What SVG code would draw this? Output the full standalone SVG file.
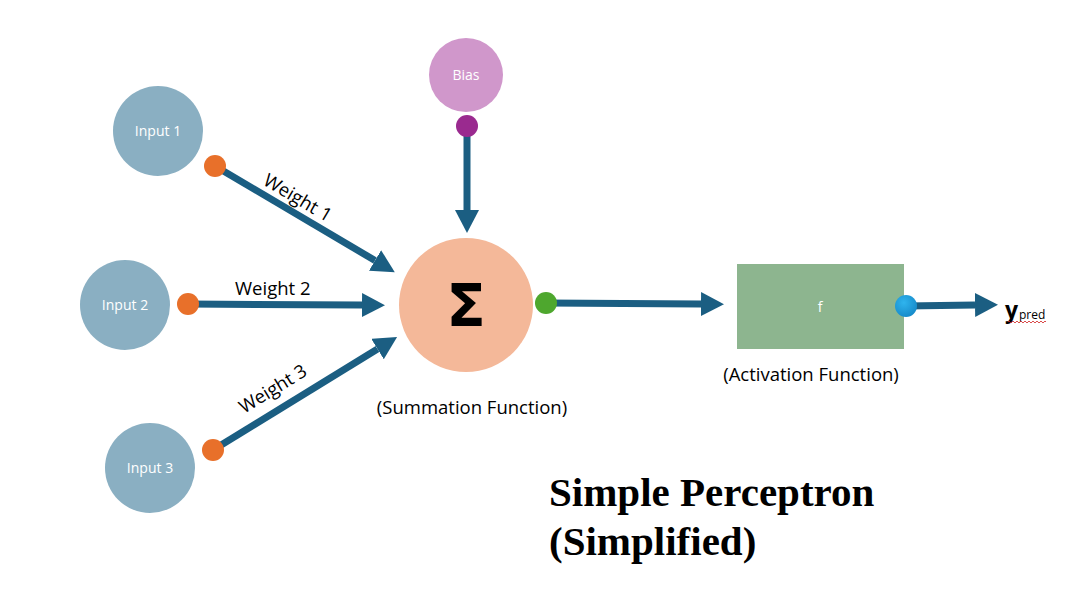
<svg xmlns="http://www.w3.org/2000/svg" width="1089" height="612" viewBox="0 0 1089 612">
<style>
.inp{fill:#8aafc2}
.lbl{font-family:"Open Sans","Liberation Sans",sans-serif;fill:#ffffff;font-size:14px;text-anchor:middle}
.txt{font-family:"Open Sans","Liberation Sans",sans-serif;fill:#000;font-size:18.5px}
.conn{stroke:#1b5e82;stroke-width:7;fill:none;marker-end:url(#ah)}
.odot{fill:#e8702a}
.title{font-family:"Liberation Serif","Times New Roman",serif;font-weight:bold;font-size:41px;fill:#000}
</style>
<defs>
<marker id="ah" markerUnits="userSpaceOnUse" markerWidth="23" markerHeight="24" refX="0" refY="12" orient="auto">
<path d="M0,0 L23,12 L0,24 z" fill="#1b5e82"/>
</marker>
<radialGradient id="bg" cx="0.4" cy="0.35" r="0.7">
<stop offset="0" stop-color="#2fb4ee"/>
<stop offset="1" stop-color="#1689c8"/>
</radialGradient>
</defs>
<rect width="1089" height="612" fill="#ffffff"/>
<g id="connectors">
<line class="conn" x1="215" y1="166" x2="375" y2="260.5"/>
<line class="conn" x1="188" y1="304" x2="362" y2="305"/>
<line class="conn" x1="213" y1="450" x2="377.5" y2="349"/>
<line class="conn" x1="467" y1="126" x2="467" y2="210"/>
<line class="conn" x1="546" y1="303" x2="701" y2="304"/>
<line class="conn" x1="906" y1="306" x2="975" y2="305"/>
<text class="txt" transform="translate(262,184) rotate(30.5)">Weight 1</text>
<text class="txt" x="235" y="295">Weight 2</text>
<text class="txt" transform="translate(244,414) rotate(-31.5)">Weight 3</text>
</g>
<g id="input1">
<circle class="inp" cx="158" cy="131" r="45"/>
<text class="lbl" x="158" y="136">Input 1</text>
<circle class="odot" cx="215" cy="166" r="11"/>
</g>
<g id="input2">
<circle class="inp" cx="125" cy="305" r="45"/>
<text class="lbl" x="125" y="310">Input 2</text>
<circle class="odot" cx="188" cy="304" r="11"/>
</g>
<g id="input3">
<circle class="inp" cx="150" cy="468" r="45"/>
<text class="lbl" x="150" y="473">Input 3</text>
<circle class="odot" cx="213" cy="450" r="11"/>
</g>
<g id="bias">
<circle cx="466" cy="75" r="37" fill="#d097cb"/>
<text class="lbl" x="466" y="80" font-size="13">Bias</text>
<circle cx="467" cy="126" r="11" fill="#9a2a8f"/>
</g>
<g id="summation">
<circle cx="466" cy="305" r="67" fill="#f4b899"/>
<text x="466" y="326" text-anchor="middle" font-family="'DejaVu Sans',sans-serif" font-weight="bold" font-size="58" fill="#000">Σ</text>
<circle cx="546" cy="303" r="11" fill="#4ea72e"/>
<text class="txt" x="472" y="414" text-anchor="middle">(Summation Function)</text>
</g>
<g id="activation">
<rect x="737" y="264" width="167" height="85" fill="#8db58f"/>
<text class="lbl" x="820" y="312" font-size="16">f</text>
<circle cx="906" cy="306" r="11" fill="url(#bg)"/>
<text class="txt" x="811" y="381" text-anchor="middle">(Activation Function)</text>
</g>
<g id="output">
<text x="1005" y="318" font-family="'Open Sans','Liberation Sans',sans-serif" font-weight="bold" font-size="23" fill="#000">y</text>
<text x="1019" y="319" font-family="'Open Sans','Liberation Sans',sans-serif" font-size="12" fill="#000">pred</text>
<path d="M1008,322 q1,-2 2,0 t2,0 t2,0 t2,0 t2,0 t2,0 t2,0 t2,0 t2,0 t2,0 t2,0 t2,0 t2,0 t2,0 t2,0 t2,0 t2,0 t2,0 t2,0" fill="none" stroke="#d02020" stroke-width="0.8"/>
</g>
<g id="title">
<text class="title" x="549" y="506">Simple Perceptron</text>
<text class="title" x="549" y="555">(Simplified)</text>
</g>
</svg>
